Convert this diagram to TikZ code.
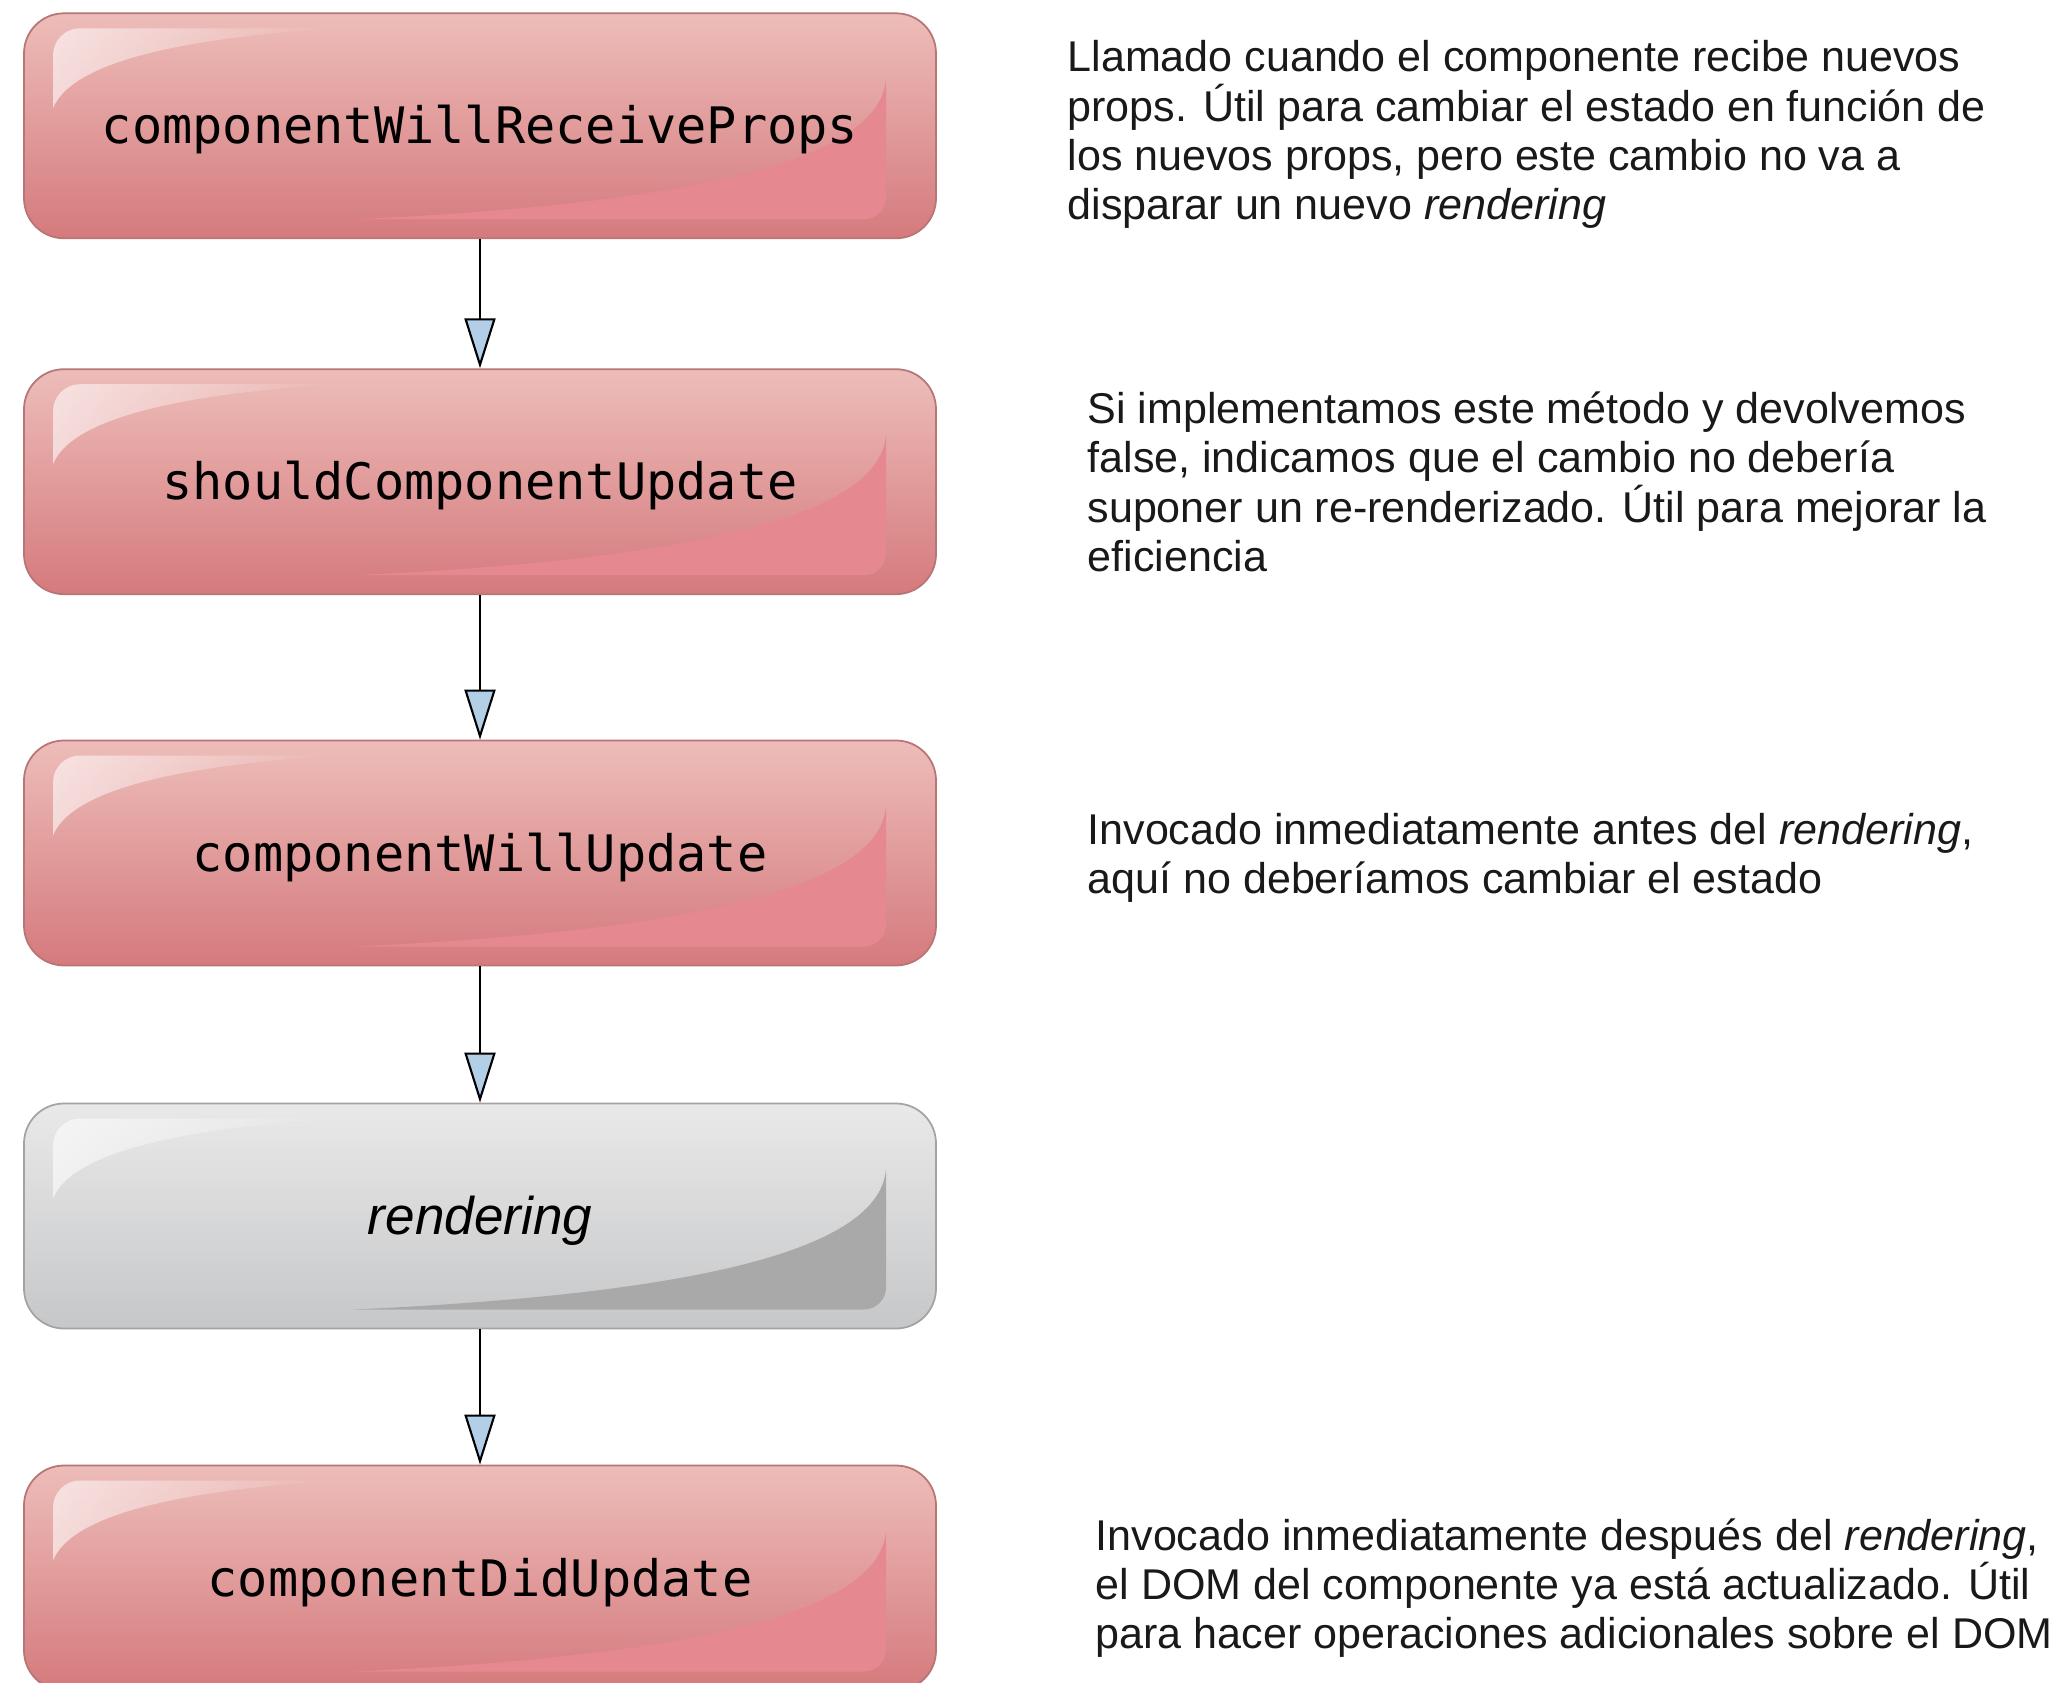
\documentclass[tikz,border=0pt]{standalone}
\usepackage{fontspec}
\setmainfont{Liberation Sans}
\newfontfamily\codefont{DejaVu Sans Mono}
\usetikzlibrary{positioning,arrows.meta,fadings}

\definecolor{hooktop}{HTML}{EDBDB9}
\definecolor{hookbottom}{HTML}{D57A7D}
\definecolor{hookedge}{HTML}{B77575}
\definecolor{hookcorner}{HTML}{E6888F}
\definecolor{idletop}{HTML}{E9E9EA}
\definecolor{idlebottom}{HTML}{C6C7C8}
\definecolor{idleedge}{HTML}{A3A3A3}
\definecolor{idlecorner}{HTML}{A9A9A9}
\definecolor{tipblue}{HTML}{B3CFE8}

\tikzset{
  gloss/.style={path picture={
    \coordinate (nw) at (path picture bounding box.north west);
    % shine in the upper left
    \fill[sharp corners, white, fill opacity=0.6, path fading=east]
      ([shift={(0.29,-0.95)}]nw) -- ([shift={(0.29,-0.42)}]nw)
      to[out=90,in=180] ([shift={(0.56,-0.15)}]nw) -- ([shift={(3.1,-0.15)}]nw)
      .. controls ([shift={(1.3,-0.27)}]nw) and ([shift={(0.45,-0.55)}]nw) .. ([shift={(0.29,-0.95)}]nw) -- cycle;
    % darker patch in the lower right
    \fill[sharp corners, #1]
      ([shift={(8.62,-0.66)}]nw) -- ([shift={(8.62,-1.84)}]nw)
      to[out=-90,in=0] ([shift={(8.40,-2.06)}]nw) -- ([shift={(3.3,-2.06)}]nw)
      .. controls ([shift={(6.8,-1.9)}]nw) and ([shift={(8.55,-1.45)}]nw) .. ([shift={(8.62,-0.66)}]nw) -- cycle;
  }},
  lifecycle/.style={rectangle, rounded corners=0.4cm, minimum width=9.12cm,
    minimum height=2.25cm, line width=0.5pt, text height=0.48cm, text depth=0.12cm},
  hookbox/.style={lifecycle, top color=hooktop, bottom color=hookbottom,
    draw=hookedge, gloss=hookcorner, font=\codefont\fontsize{14.3}{17}\selectfont},
  renderbox/.style={lifecycle, top color=idletop, bottom color=idlebottom,
    draw=idleedge, gloss=idlecorner, font=\itshape\fontsize{15.1}{18}\selectfont},
  notetext/.style={inner sep=0pt, align=left, text=black!90,
    font=\fontsize{12.25}{14.05}\selectfont},
  flowarrow/.style={-{Triangle[width=0.31cm,length=0.5cm,fill=tipblue]}, line width=0.6pt}
}

\begin{document}
\begin{tikzpicture}
  \useasboundingbox (0,0) rectangle (20.55,-16.83);

  \node[hookbox] (willreceive) at (4.80,-1.258) {componentWillReceiveProps};
  \node[hookbox] (shouldupdate) at (4.80,-4.817) {shouldComponentUpdate};
  \node[hookbox] (willupdate) at (4.80,-8.53) {componentWillUpdate};
  \node[renderbox] (render) at (4.80,-12.16) {rendering};
  \node[hookbox] (didupdate) at (4.80,-15.78) {componentDidUpdate};

  \draw[flowarrow] (willreceive) -- (shouldupdate);
  \draw[flowarrow] (shouldupdate) -- (willupdate);
  \draw[flowarrow] (willupdate) -- (render);
  \draw[flowarrow] (render) -- (didupdate);

  \node[notetext, right=1.30cm of willreceive, yshift=-0.09cm] (willreceive-note)
    {Llamado cuando el componente recibe nuevos\\
     props. Útil para cambiar el estado en función de\\
     los nuevos props, pero este cambio no va a\\
     disparar un nuevo \textit{rendering}};
  \node[notetext, right=1.50cm of shouldupdate] (shouldupdate-note)
    {Si implementamos este método y devolvemos\\
     false, indicamos que el cambio no debería\\
     suponer un re-renderizado. Útil para mejorar la\\
     eficiencia};
  \node[notetext, right=1.50cm of willupdate, yshift=-0.05cm] (willupdate-note)
    {Invocado inmediatamente antes del \textit{rendering},\\
     aquí no deberíamos cambiar el estado};
  \node[notetext, right=1.58cm of didupdate, yshift=-0.10cm] (didupdate-note)
    {Invocado inmediatamente después del \textit{rendering},\\
     el DOM del componente ya está actualizado. Útil\\
     para hacer operaciones adicionales sobre el DOM};
\end{tikzpicture}
\end{document}
